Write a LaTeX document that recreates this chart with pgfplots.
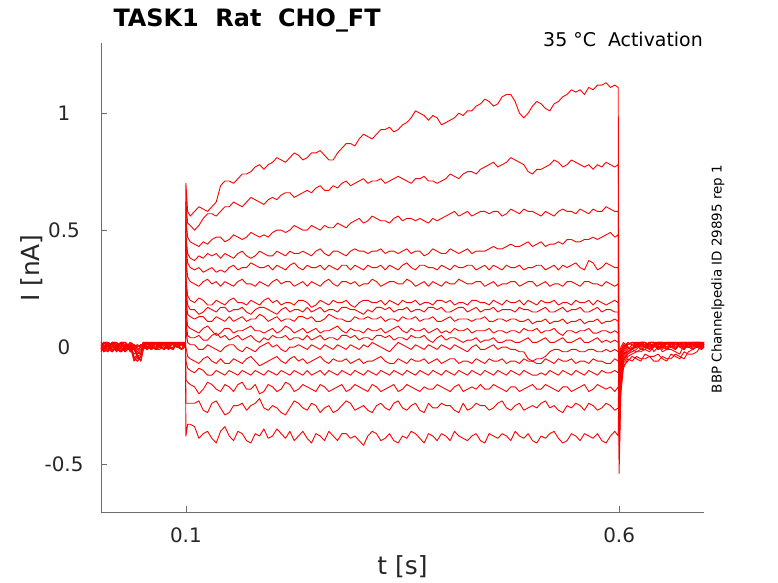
\documentclass[border=0pt]{standalone}
\usepackage{fontspec}
\setmainfont{DejaVu Sans}
\usepackage{pgfplots}
\pgfplotsset{compat=1.18}
\usepackage{pgfplotstable}
\definecolor{axgray}{RGB}{38,38,38}
\definecolor{axline}{RGB}{110,110,110}

\pgfplotstableread{
t a b c d e f g h i j k l m n o p q
0.002 0.01 -0.01 0.02 0.00 -0.02 0.01 0.00 0.02 -0.01 0.01 -0.02 0.00 0.01 -0.01 0.02 0.00 -0.01
0.005 -0.02 0.02 0.01 -0.01 0.02 0.00 -0.02 0.01 0.02 -0.01 0.00 0.02 -0.02 0.01 0.00 -0.01 0.02
0.010 -0.01 0.02 0.00 0.01 0.01 -0.02 0.02 -0.01 0.00 -0.02 0.01 0.02 -0.01 0.00 -0.01 0.02 0.01
0.015 0.02 -0.01 0.02 0.01 -0.02 0.02 0.01 -0.02 0.00 0.02 -0.01 0.00 0.02 -0.02 0.02 0.01 -0.02
0.020 0.02 0.00 -0.01 -0.02 0.00 0.01 -0.01 0.01 0.02 0.00 -0.01 -0.01 0.02 0.01 0.00 -0.02 0.00
0.025 -0.01 0.02 -0.02 0.02 0.01 -0.02 0.02 0.00 -0.02 0.01 0.02 -0.02 0.00 0.02 -0.02 0.00 0.02
0.030 0.00 -0.02 0.01 0.02 -0.01 0.00 0.01 -0.02 0.01 0.02 0.00 0.01 -0.02 0.02 -0.01 0.01 -0.01
0.036 0.01 0.01 -0.02 0.00 0.02 -0.01 0.00 0.01 -0.02 0.00 0.02 -0.01 0.00 -0.02 0.01 0.00 0.02
0.040 -0.05 -0.04 0.00 -0.06 0.01 -0.01 -0.05 0.00 0.01 -0.01 0.00 0.01 -0.03 0.00 -0.01 0.01 0.00
0.044 -0.03 -0.06 -0.03 -0.04 -0.01 0.00 -0.06 -0.02 0.00 -0.04 0.01 -0.05 -0.02 0.01 -0.03 0.00 -0.01
0.048 -0.06 -0.04 -0.01 -0.06 0.00 0.01 -0.04 -0.03 0.01 -0.03 0.00 -0.04 0.00 0.00 -0.02 0.01 0.00
0.051 0.01 0.02 0.00 -0.01 0.02 0.01 0.00 0.02 -0.01 0.01 0.02 0.00 0.01 0.02 0.00 0.01 0.02
0.055 0.00 0.02 -0.01 0.02 0.00 -0.01 0.02 -0.01 0.01 0.02 -0.01 0.01 0.02 -0.01 0.00 0.02 -0.01
0.060 0.02 0.00 0.01 0.02 -0.01 0.02 0.01 0.00 0.02 -0.01 0.01 0.02 0.00 0.01 0.02 -0.01 0.01
0.065 0.02 -0.01 0.02 -0.01 0.02 0.01 -0.01 0.02 -0.01 0.00 0.02 -0.01 0.01 0.02 -0.01 0.00 0.02
0.070 0.00 0.02 0.02 0.00 0.01 0.00 0.02 0.01 0.00 0.02 0.00 -0.01 0.02 0.00 0.01 0.02 0.00
0.075 -0.01 0.02 0.00 0.02 -0.01 0.02 0.01 -0.01 0.02 0.01 -0.01 0.02 0.00 -0.01 0.02 0.01 -0.01
0.080 0.01 -0.01 0.00 0.02 0.02 0.01 -0.01 0.02 0.01 0.00 0.02 0.01 -0.01 0.02 0.00 0.01 0.02
0.085 0.02 0.00 -0.01 0.01 0.02 -0.01 0.02 0.01 -0.01 0.02 0.01 -0.01 0.02 0.01 -0.01 0.02 0.01
0.090 0.02 0.01 0.02 0.00 0.00 0.02 0.01 0.00 0.02 0.01 0.00 0.02 0.01 0.00 0.02 0.01 0.00
0.095 -0.01 0.02 0.01 -0.01 0.01 0.02 -0.01 0.02 0.01 -0.01 0.02 0.01 -0.01 0.02 0.01 -0.01 0.02
0.0995 0.00 0.02 0.01 0.01 0.02 0.00 0.02 0.01 0.00 0.02 0.01 0.00 0.02 0.01 0.00 0.02 0.01
0.100 0.70 0.62 0.55 0.48 0.44 0.38 0.30 0.26 0.22 0.17 0.12 0.08 0.00 -0.06 -0.14 -0.24 -0.38
0.102 0.58 0.53 0.47 0.40 0.36 0.30 0.22 0.18 0.14 0.09 0.05 0.02 -0.04 -0.09 -0.15 -0.24 -0.33
0.105 0.56 0.52 0.45 0.38 0.34 0.28 0.20 0.16 0.13 0.08 0.04 0.01 -0.05 -0.10 -0.16 -0.24 -0.33
0.11 0.58 0.50 0.44 0.37 0.33 0.27 0.19 0.16 0.12 0.07 0.04 0.01 -0.06 -0.11 -0.17 -0.24 -0.34
0.115 0.60 0.52 0.43 0.39 0.34 0.26 0.21 0.14 0.13 0.06 0.05 -0.01 -0.07 -0.09 -0.20 -0.23 -0.39
0.12 0.59 0.55 0.45 0.38 0.32 0.28 0.20 0.15 0.13 0.08 0.03 -0.01 -0.05 -0.10 -0.18 -0.27 -0.37
0.125 0.58 0.57 0.44 0.40 0.33 0.29 0.18 0.17 0.11 0.09 0.03 0.01 -0.04 -0.12 -0.15 -0.28 -0.36
0.13 0.60 0.57 0.46 0.39 0.34 0.27 0.18 0.16 0.11 0.07 0.05 0.00 -0.06 -0.12 -0.16 -0.24 -0.39
0.135 0.62 0.56 0.47 0.40 0.32 0.28 0.20 0.15 0.13 0.05 0.06 -0.01 -0.07 -0.10 -0.18 -0.23 -0.41
0.14 0.69 0.58 0.47 0.38 0.33 0.26 0.19 0.17 0.12 0.06 0.04 -0.02 -0.05 -0.11 -0.19 -0.26 -0.36
0.145 0.71 0.60 0.45 0.40 0.32 0.28 0.18 0.17 0.11 0.08 0.05 0.00 -0.07 -0.12 -0.16 -0.29 -0.34
0.15 0.71 0.60 0.46 0.39 0.34 0.27 0.20 0.15 0.13 0.08 0.03 0.01 -0.07 -0.10 -0.17 -0.28 -0.38
0.155 0.70 0.62 0.48 0.38 0.35 0.26 0.21 0.16 0.11 0.06 0.04 0.01 -0.05 -0.11 -0.19 -0.25 -0.40
0.16 0.72 0.61 0.47 0.40 0.33 0.28 0.19 0.16 0.12 0.07 0.05 -0.01 -0.06 -0.12 -0.16 -0.25 -0.36
0.165 0.74 0.60 0.46 0.41 0.34 0.29 0.19 0.17 0.13 0.07 0.03 -0.02 -0.07 -0.10 -0.15 -0.24 -0.37
0.17 0.74 0.62 0.47 0.39 0.34 0.27 0.18 0.15 0.11 0.08 0.04 0.00 -0.05 -0.11 -0.18 -0.27 -0.40
0.175 0.75 0.64 0.49 0.38 0.36 0.27 0.20 0.14 0.12 0.09 0.05 -0.01 -0.04 -0.12 -0.18 -0.25 -0.41
0.18 0.77 0.63 0.48 0.39 0.35 0.26 0.19 0.16 0.12 0.07 0.03 -0.02 -0.06 -0.10 -0.16 -0.24 -0.37
0.185 0.78 0.62 0.47 0.41 0.34 0.28 0.18 0.17 0.14 0.07 0.02 0.00 -0.08 -0.11 -0.20 -0.22 -0.38
0.19 0.76 0.61 0.48 0.40 0.34 0.27 0.20 0.17 0.13 0.06 0.04 0.01 -0.07 -0.12 -0.19 -0.26 -0.35
0.195 0.78 0.63 0.47 0.39 0.35 0.26 0.21 0.16 0.11 0.07 0.03 0.02 -0.06 -0.10 -0.16 -0.27 -0.39
0.20 0.79 0.64 0.49 0.39 0.33 0.28 0.19 0.15 0.12 0.08 0.05 0.00 -0.05 -0.11 -0.17 -0.25 -0.38
0.205 0.81 0.63 0.50 0.41 0.35 0.29 0.20 0.14 0.13 0.06 0.04 0.01 -0.04 -0.12 -0.19 -0.26 -0.35
0.21 0.80 0.65 0.50 0.40 0.34 0.27 0.18 0.16 0.11 0.07 0.04 -0.01 -0.06 -0.10 -0.18 -0.28 -0.37
0.215 0.79 0.66 0.49 0.39 0.33 0.28 0.19 0.17 0.12 0.09 0.05 -0.02 -0.07 -0.11 -0.15 -0.29 -0.39
0.22 0.81 0.66 0.50 0.41 0.35 0.28 0.19 0.15 0.12 0.08 0.03 0.00 -0.05 -0.12 -0.16 -0.26 -0.36
0.225 0.83 0.64 0.52 0.40 0.36 0.26 0.18 0.16 0.11 0.06 0.04 0.00 -0.04 -0.10 -0.19 -0.23 -0.40
0.23 0.82 0.65 0.51 0.40 0.34 0.27 0.20 0.16 0.13 0.07 0.04 0.01 -0.06 -0.11 -0.18 -0.24 -0.38
0.235 0.80 0.66 0.50 0.41 0.33 0.28 0.20 0.15 0.13 0.08 0.03 0.00 -0.05 -0.12 -0.16 -0.26 -0.36
0.24 0.81 0.67 0.50 0.40 0.35 0.26 0.19 0.17 0.12 0.06 0.05 -0.01 -0.07 -0.10 -0.17 -0.27 -0.39
0.245 0.83 0.66 0.52 0.39 0.34 0.28 0.17 0.15 0.13 0.07 0.03 0.01 -0.06 -0.12 -0.18 -0.24 -0.41
0.25 0.83 0.68 0.51 0.41 0.34 0.27 0.18 0.16 0.11 0.08 0.04 0.00 -0.05 -0.11 -0.19 -0.25 -0.37
0.255 0.84 0.69 0.50 0.42 0.35 0.26 0.20 0.17 0.11 0.06 0.05 -0.01 -0.04 -0.10 -0.16 -0.28 -0.38
0.26 0.82 0.67 0.52 0.40 0.33 0.28 0.19 0.15 0.12 0.07 0.03 0.01 -0.06 -0.12 -0.17 -0.26 -0.40
0.265 0.80 0.67 0.51 0.39 0.35 0.29 0.18 0.16 0.14 0.07 0.04 0.00 -0.07 -0.10 -0.19 -0.25 -0.36
0.27 0.80 0.69 0.51 0.41 0.34 0.27 0.20 0.16 0.13 0.08 0.04 -0.01 -0.05 -0.11 -0.18 -0.28 -0.38
0.275 0.83 0.68 0.53 0.41 0.33 0.26 0.19 0.15 0.12 0.09 0.03 0.01 -0.06 -0.12 -0.17 -0.27 -0.40
0.28 0.85 0.70 0.52 0.40 0.35 0.28 0.19 0.17 0.12 0.07 0.05 0.00 -0.06 -0.10 -0.16 -0.25 -0.37
0.285 0.87 0.71 0.51 0.39 0.35 0.28 0.20 0.17 0.11 0.06 0.05 -0.01 -0.05 -0.11 -0.19 -0.23 -0.37
0.29 0.87 0.69 0.53 0.41 0.33 0.27 0.18 0.16 0.11 0.08 0.04 0.01 -0.07 -0.12 -0.18 -0.24 -0.39
0.295 0.86 0.70 0.54 0.42 0.35 0.28 0.17 0.16 0.13 0.07 0.05 0.00 -0.06 -0.10 -0.16 -0.27 -0.38
0.30 0.89 0.71 0.55 0.41 0.34 0.26 0.19 0.15 0.12 0.07 0.03 -0.01 -0.05 -0.11 -0.17 -0.26 -0.40
0.305 0.91 0.72 0.53 0.41 0.33 0.27 0.20 0.14 0.12 0.06 0.04 0.01 -0.07 -0.12 -0.18 -0.25 -0.42
0.31 0.90 0.70 0.54 0.40 0.35 0.27 0.20 0.16 0.13 0.08 0.04 0.00 -0.06 -0.10 -0.19 -0.27 -0.38
0.315 0.89 0.71 0.56 0.41 0.34 0.29 0.19 0.15 0.12 0.07 0.03 0.02 -0.06 -0.11 -0.16 -0.28 -0.36
0.32 0.91 0.71 0.55 0.41 0.34 0.28 0.19 0.17 0.12 0.07 0.05 0.01 -0.05 -0.12 -0.17 -0.25 -0.37
0.325 0.93 0.72 0.54 0.42 0.35 0.26 0.20 0.17 0.13 0.08 0.05 0.00 -0.04 -0.10 -0.19 -0.24 -0.40
0.33 0.93 0.70 0.54 0.40 0.33 0.27 0.18 0.16 0.11 0.06 0.04 -0.01 -0.06 -0.11 -0.18 -0.26 -0.39
0.335 0.94 0.71 0.53 0.41 0.35 0.28 0.20 0.17 0.12 0.07 0.05 -0.02 -0.07 -0.12 -0.17 -0.27 -0.37
0.34 0.92 0.72 0.55 0.41 0.34 0.28 0.19 0.15 0.12 0.08 0.03 0.00 -0.07 -0.10 -0.16 -0.24 -0.40
0.345 0.93 0.73 0.56 0.40 0.33 0.27 0.18 0.16 0.11 0.09 0.04 0.02 -0.05 -0.11 -0.19 -0.23 -0.41
0.35 0.95 0.72 0.54 0.41 0.35 0.27 0.20 0.16 0.13 0.07 0.04 0.01 -0.06 -0.12 -0.18 -0.26 -0.38
0.355 0.96 0.71 0.55 0.42 0.36 0.29 0.19 0.17 0.12 0.06 0.03 0.00 -0.07 -0.10 -0.16 -0.27 -0.39
0.36 0.98 0.70 0.55 0.40 0.34 0.28 0.19 0.15 0.12 0.08 0.05 -0.01 -0.05 -0.11 -0.17 -0.25 -0.36
0.365 1.01 0.72 0.54 0.41 0.33 0.26 0.20 0.16 0.13 0.07 0.04 0.01 -0.06 -0.12 -0.18 -0.24 -0.37
0.37 1.00 0.72 0.55 0.41 0.35 0.27 0.18 0.16 0.11 0.07 0.04 0.00 -0.06 -0.10 -0.19 -0.27 -0.39
0.375 0.99 0.73 0.54 0.39 0.35 0.28 0.19 0.15 0.12 0.08 0.05 -0.01 -0.05 -0.11 -0.17 -0.28 -0.41
0.38 0.97 0.71 0.53 0.40 0.34 0.26 0.19 0.17 0.12 0.06 0.03 0.01 -0.07 -0.12 -0.18 -0.24 -0.37
0.385 0.99 0.71 0.55 0.42 0.34 0.28 0.18 0.17 0.13 0.07 0.02 0.00 -0.06 -0.10 -0.18 -0.26 -0.38
0.39 0.98 0.70 0.54 0.41 0.33 0.27 0.20 0.16 0.11 0.08 0.04 -0.01 -0.05 -0.11 -0.16 -0.26 -0.40
0.395 0.95 0.71 0.55 0.40 0.35 0.26 0.20 0.17 0.11 0.06 0.05 0.01 -0.07 -0.12 -0.17 -0.24 -0.37
0.40 0.96 0.72 0.56 0.40 0.34 0.28 0.19 0.15 0.12 0.07 0.03 0.00 -0.06 -0.10 -0.18 -0.25 -0.38
0.405 0.97 0.74 0.57 0.42 0.33 0.27 0.20 0.15 0.13 0.06 0.04 -0.01 -0.05 -0.11 -0.19 -0.25 -0.40
0.41 0.98 0.73 0.58 0.41 0.35 0.27 0.18 0.16 0.11 0.08 0.04 0.01 -0.05 -0.12 -0.17 -0.27 -0.36
0.415 1.00 0.72 0.56 0.40 0.34 0.29 0.19 0.17 0.12 0.07 0.03 0.00 -0.07 -0.10 -0.16 -0.28 -0.38
0.42 0.99 0.74 0.57 0.41 0.34 0.28 0.19 0.17 0.12 0.07 0.02 -0.01 -0.06 -0.11 -0.19 -0.24 -0.39
0.425 1.01 0.75 0.58 0.42 0.35 0.27 0.18 0.15 0.12 0.08 0.03 -0.02 -0.06 -0.12 -0.18 -0.27 -0.40
0.43 1.01 0.75 0.56 0.40 0.35 0.27 0.20 0.16 0.11 0.06 0.03 0.00 -0.07 -0.10 -0.17 -0.26 -0.38
0.435 1.03 0.74 0.57 0.41 0.33 0.28 0.20 0.17 0.12 0.07 0.04 0.01 -0.05 -0.11 -0.18 -0.24 -0.37
0.44 1.04 0.76 0.58 0.41 0.34 0.28 0.19 0.15 0.12 0.07 0.02 -0.01 -0.06 -0.12 -0.16 -0.25 -0.40
0.445 1.06 0.77 0.58 0.41 0.35 0.26 0.19 0.16 0.13 0.07 0.03 -0.01 -0.07 -0.10 -0.18 -0.25 -0.41
0.45 1.05 0.78 0.57 0.42 0.33 0.27 0.18 0.16 0.11 0.08 0.03 0.00 -0.05 -0.11 -0.18 -0.27 -0.37
0.455 1.03 0.79 0.58 0.43 0.35 0.28 0.20 0.17 0.11 0.06 0.04 0.01 -0.06 -0.12 -0.16 -0.26 -0.38
0.46 1.04 0.77 0.58 0.42 0.34 0.26 0.19 0.15 0.12 0.07 0.02 -0.01 -0.06 -0.10 -0.17 -0.24 -0.39
0.465 1.07 0.78 0.56 0.42 0.33 0.27 0.18 0.16 0.12 0.07 0.02 0.00 -0.05 -0.11 -0.18 -0.23 -0.37
0.47 1.08 0.79 0.57 0.43 0.35 0.27 0.20 0.16 0.11 0.06 0.03 0.00 -0.07 -0.12 -0.19 -0.26 -0.38
0.475 1.08 0.81 0.59 0.44 0.34 0.28 0.19 0.16 0.12 0.07 0.03 -0.01 -0.06 -0.10 -0.17 -0.27 -0.40
0.48 1.05 0.80 0.58 0.43 0.34 0.28 0.19 0.15 0.12 0.07 0.02 -0.01 -0.06 -0.11 -0.17 -0.25 -0.36
0.485 1.00 0.79 0.57 0.43 0.35 0.26 0.20 0.17 0.11 0.06 0.02 -0.02 -0.07 -0.12 -0.19 -0.24 -0.38
0.49 0.98 0.78 0.59 0.44 0.33 0.27 0.18 0.16 0.11 0.08 0.03 -0.02 -0.05 -0.10 -0.18 -0.27 -0.39
0.495 1.00 0.75 0.58 0.45 0.34 0.28 0.20 0.16 0.12 0.07 0.04 -0.05 -0.06 -0.11 -0.17 -0.26 -0.37
0.50 1.03 0.74 0.58 0.43 0.34 0.28 0.19 0.15 0.10 0.07 0.02 -0.06 -0.06 -0.12 -0.16 -0.25 -0.40
0.505 1.05 0.76 0.57 0.44 0.35 0.26 0.18 0.15 0.11 0.08 0.02 -0.05 -0.07 -0.12 -0.18 -0.26 -0.41
0.51 1.04 0.76 0.56 0.45 0.35 0.27 0.20 0.16 0.11 0.06 0.03 -0.05 -0.07 -0.11 -0.18 -0.24 -0.38
0.515 1.02 0.77 0.58 0.43 0.33 0.28 0.19 0.17 0.12 0.07 0.04 -0.04 -0.05 -0.12 -0.16 -0.23 -0.39
0.52 1.01 0.78 0.57 0.44 0.34 0.26 0.19 0.15 0.10 0.07 0.02 -0.02 -0.06 -0.10 -0.17 -0.26 -0.37
0.525 1.04 0.80 0.56 0.44 0.35 0.27 0.20 0.15 0.11 0.08 0.02 -0.01 -0.07 -0.11 -0.18 -0.25 -0.36
0.53 1.05 0.79 0.58 0.45 0.33 0.27 0.18 0.16 0.11 0.06 0.03 -0.01 -0.05 -0.12 -0.19 -0.27 -0.39
0.535 1.07 0.77 0.59 0.44 0.35 0.26 0.19 0.17 0.12 0.05 0.04 -0.02 -0.06 -0.10 -0.17 -0.28 -0.41
0.54 1.08 0.78 0.58 0.46 0.34 0.28 0.19 0.15 0.10 0.07 0.02 -0.02 -0.06 -0.11 -0.17 -0.25 -0.40
0.545 1.10 0.80 0.58 0.46 0.35 0.28 0.18 0.16 0.11 0.07 0.02 -0.01 -0.05 -0.12 -0.19 -0.26 -0.37
0.55 1.09 0.79 0.57 0.45 0.36 0.27 0.20 0.16 0.11 0.06 0.03 -0.01 -0.07 -0.10 -0.18 -0.24 -0.38
0.555 1.10 0.78 0.59 0.45 0.34 0.26 0.19 0.17 0.12 0.07 0.04 -0.02 -0.06 -0.11 -0.17 -0.25 -0.40
0.56 1.08 0.77 0.58 0.46 0.33 0.28 0.19 0.15 0.10 0.07 0.02 -0.02 -0.06 -0.12 -0.16 -0.27 -0.37
0.565 1.11 0.78 0.57 0.46 0.37 0.28 0.20 0.15 0.11 0.08 0.02 -0.01 -0.07 -0.10 -0.19 -0.24 -0.38
0.57 1.10 0.76 0.59 0.47 0.36 0.27 0.18 0.16 0.11 0.06 0.03 -0.01 -0.05 -0.11 -0.18 -0.25 -0.39
0.575 1.12 0.78 0.58 0.46 0.33 0.27 0.20 0.17 0.12 0.06 0.04 -0.02 -0.06 -0.12 -0.16 -0.27 -0.37
0.58 1.12 0.77 0.58 0.47 0.34 0.26 0.19 0.15 0.10 0.07 0.02 -0.02 -0.06 -0.10 -0.17 -0.26 -0.40
0.585 1.13 0.79 0.60 0.48 0.36 0.28 0.18 0.16 0.11 0.07 0.03 -0.01 -0.07 -0.11 -0.18 -0.24 -0.41
0.59 1.11 0.78 0.59 0.49 0.35 0.27 0.19 0.16 0.11 0.06 0.02 -0.02 -0.07 -0.11 -0.17 -0.25 -0.38
0.595 1.12 0.77 0.58 0.47 0.34 0.26 0.20 0.15 0.12 0.07 0.03 -0.01 -0.05 -0.10 -0.19 -0.27 -0.36
0.599 1.11 0.78 0.58 0.48 0.34 0.27 0.19 0.15 0.11 0.06 0.02 -0.02 -0.06 -0.11 -0.17 -0.26 -0.38
0.600 -0.54 -0.48 -0.42 -0.38 -0.34 -0.30 -0.27 -0.24 -0.21 -0.18 -0.15 -0.12 -0.10 -0.08 -0.06 -0.05 -0.04
0.602 -0.20 -0.17 -0.15 -0.13 -0.12 -0.10 -0.09 -0.08 -0.07 -0.06 -0.05 -0.04 -0.03 -0.03 -0.02 -0.01 0.00
0.605 -0.09 -0.08 -0.07 -0.06 -0.05 -0.05 -0.04 -0.03 -0.03 -0.02 -0.01 -0.01 0.00 0.01 0.00 0.01 0.02
0.61 -0.05 -0.06 -0.04 -0.03 -0.02 -0.03 -0.01 0.00 -0.02 0.01 0.00 0.02 0.01 0.00 0.02 0.01 0.00
0.615 -0.06 -0.04 -0.03 -0.02 -0.01 -0.01 0.01 -0.01 0.00 0.02 -0.01 0.01 0.02 -0.01 0.01 0.02 -0.01
0.62 -0.04 -0.05 -0.02 -0.01 0.00 -0.02 0.01 0.02 0.00 0.01 0.02 0.00 0.01 0.02 0.00 0.02 0.01
0.625 -0.05 -0.06 -0.01 0.01 0.02 -0.02 0.02 0.00 0.02 -0.01 0.01 0.02 -0.01 0.02 0.01 0.00 0.02
0.63 -0.05 -0.03 -0.01 0.00 0.02 -0.01 0.00 0.01 0.02 0.00 0.01 0.02 0.00 0.01 0.02 0.00 0.02
0.635 -0.04 -0.04 -0.02 0.02 0.00 0.01 -0.01 0.02 0.01 0.02 -0.01 0.00 0.02 0.01 -0.01 0.02 0.01
0.64 -0.06 -0.04 0.00 -0.02 0.01 0.01 0.02 0.00 0.01 0.02 0.00 0.01 0.02 0.00 0.01 0.02 0.00
0.645 -0.06 -0.03 0.01 0.00 0.02 -0.01 0.02 0.01 -0.01 0.00 0.02 0.02 -0.01 0.02 0.01 -0.01 0.02
0.65 -0.04 -0.05 -0.02 -0.01 0.00 0.02 0.01 0.02 0.00 0.01 0.02 0.00 0.01 0.02 0.01 0.00 0.02
0.655 -0.05 -0.06 -0.01 0.02 -0.01 0.02 0.00 -0.01 0.02 0.02 0.01 -0.01 0.02 0.00 0.02 0.02 -0.01
0.66 -0.05 -0.03 -0.01 0.00 0.02 0.00 0.02 0.01 0.02 0.00 0.01 0.02 0.00 0.01 0.02 0.01 0.00
0.665 -0.03 -0.04 -0.02 -0.01 0.02 0.01 0.02 0.02 0.00 -0.01 0.02 0.01 0.00 0.02 -0.01 0.01 0.02
0.67 -0.04 -0.05 -0.03 0.01 0.01 0.02 0.00 0.02 0.01 0.02 0.00 0.01 0.02 0.00 0.01 0.02 0.01
0.675 -0.05 -0.02 0.01 0.02 0.00 -0.01 0.01 0.00 0.02 0.02 -0.01 0.02 0.02 -0.01 0.02 0.00 0.01
0.68 -0.02 -0.03 0.00 0.02 0.00 0.01 0.02 0.00 0.02 0.01 0.02 0.00 0.01 0.02 0.00 0.01 0.02
0.685 -0.01 -0.03 -0.01 0.01 0.02 0.02 -0.01 0.02 0.01 0.00 0.02 0.00 0.01 0.02 0.01 0.02 -0.01
0.69 0.00 -0.02 0.01 0.00 0.02 0.02 0.01 0.02 0.00 0.02 0.01 0.02 0.00 0.01 0.02 0.00 0.01
0.695 0.02 0.01 0.00 0.02 -0.01 0.00 0.02 0.01 -0.01 0.02 0.00 0.02 0.01 -0.01 0.02 0.00 0.02
0.698 0.01 0.00 0.02 0.01 0.00 0.01 0.02 0.00 0.01 0.00 0.02 0.01 0.02 0.00 0.01 0.02 0.00
}\data

\begin{document}
\begin{tikzpicture}
\useasboundingbox (-101bp,-71bp) rectangle (677bp,512bp);
\begin{axis}[
  at={(0,0)}, anchor=south west,
  scale only axis, width=603bp, height=469bp,
  xmin=0.002, xmax=0.698, ymin=-0.705, ymax=1.3,
  axis x line*=bottom, axis y line*=left,
  axis line style={axline, line width=0.7bp, -},
  xtick={0.1,0.6}, xticklabels={0.1,0.6},
  ytick={-0.5,0,0.5,1}, yticklabels={-0.5,0,0.5,1},
  tick align=inside, major tick length=6bp,
  tick style={axline, line width=0.7bp},
  ticklabel style={font=\fontsize{20}{22}\selectfont, text=axgray},
  yticklabel style={anchor=center, xshift=-37bp},
  xticklabel style={anchor=center, yshift=-23bp},
  xlabel={t [s]}, ylabel={I [nA]},
  label style={font=\fontsize{25}{28}\selectfont, text=axgray},
  xlabel style={at={(axis description cs:0.5,-0.117)}, anchor=center},
  ylabel style={at={(axis description cs:-0.1144,0.52)}, anchor=center},
]
\pgfplotsinvokeforeach{a,b,c,d,e,f,g,h,i,j,k,l,m,n,o,p,q}{
  \addplot[red, line width=0.9bp, line join=round] table[x=t, y=#1] {\data};
}
\end{axis}
\node[anchor=base west, font=\bfseries\fontsize{24}{28}\selectfont] at (9bp,485bp) {TASK1\ \ Rat\ \ CHO\_FT};
\node[anchor=base east, font=\fontsize{19}{21}\selectfont, inner sep=0pt] at (602bp,465bp) {35 °C\ \ Activation};
\node[rotate=90, anchor=center, font=\fontsize{13.5}{16}\selectfont] at (617bp,233bp) {BBP Channelpedia ID 29895 rep 1};
\end{tikzpicture}
\end{document}
